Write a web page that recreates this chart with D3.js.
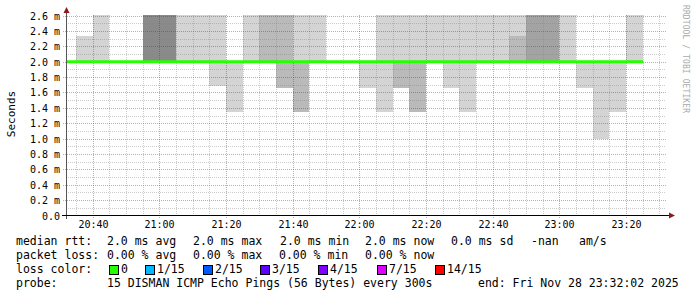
<!DOCTYPE html>
<html>
<head>
<meta charset="utf-8">
<script src="https://cdn.jsdelivr.net/npm/d3@7"></script>
<style>
body { margin: 0; background: #fff; }
svg { display: block; }
text { font-family: "DejaVu Sans Mono", monospace; }
</style>
</head>
<body>
<svg id="chart" width="697" height="297"></svg>
<script>
// one entry per 5 minute slot (start time), values in ms
const slotTimes = ["20:30", "20:35", "20:40", "20:45", "20:50", "20:55", "21:00", "21:05", "21:10",
  "21:15", "21:20", "21:25", "21:30", "21:35", "21:40", "21:45", "21:50", "21:55", "22:00", "22:05",
  "22:10", "22:15", "22:20", "22:25", "22:30", "22:35", "22:40", "22:45", "22:50", "22:55", "23:00",
  "23:05", "23:10", "23:15", "23:20"];
const medianRtt = [2.0, 2.0, 2.0, 2.0, 2.0, 2.0, 2.0, 2.0, 2.0, 2.0, 2.0, 2.0, 2.0, 2.0, 2.0, 2.0, 2.0, 2.0,
  2.0, 2.0, 2.0, 2.0, 2.0, 2.0, 2.0, 2.0, 2.0, 2.0, 2.0, 2.0, 2.0, 2.0, 2.0, 2.0, 2.0];
// smoke above the median (top of band), null = none
const maxPing = [null, 2.34, 2.7, null, null, 2.7, 2.7, 2.7, 2.7, 2.7, null, 2.7, 2.7, 2.7, 2.7, 2.7, null, null,
  null, 2.7, 2.7, 2.7, 2.7, 2.7, 2.7, 2.7, 2.7, 2.7, 2.7, 2.7, 2.7, null, null, null, 2.7];
const maxShade = [0, 0, 0, 0, 0, 3, 3, 0, 0, 0, 0, 0, 1, 1, 0, 0, 0, 0,
  0, 0, 0, 0, 0, 0, 0, 0, 0, 0, 2, 2, 0, 0, 0, 0, 0];
// denser inner band above the median
const innerPing = [null, null, null, null, null, null, null, null, null, null, null, null, null, null, null, null, null, null,
  null, null, null, null, null, null, null, null, null, 2.34, null, null, null, null, null, null, null];
const innerShade = [0, 0, 0, 0, 0, 0, 0, 0, 0, 0, 0, 0, 0, 0, 0, 0, 0, 0,
  0, 0, 0, 0, 0, 0, 0, 0, 0, 1, 0, 0, 0, 0, 0, 0, 0];
// smoke below the median (bottom of band)
const minPing = [null, null, null, null, null, null, null, null, null, 1.69, 1.35, null, null, 1.66, 1.35, null, null, null,
  1.66, 1.35, 1.66, 1.35, null, 1.66, 1.35, null, null, null, null, null, null, 1.66, 1.0, 1.35, null];
const minShade = [0, 0, 0, 0, 0, 0, 0, 0, 0, 0, 0, 0, 0, 1, 1, 0, 0, 0,
  0, 0, 1, 1, 0, 0, 0, 0, 0, 0, 0, 0, 0, 0, 0, 0, 0];

const yTicks = [0, 0.2, 0.4, 0.6, 0.8, 1.0, 1.2, 1.4, 1.6, 1.8, 2.0, 2.2, 2.4, 2.6];
const xTicks = ["20:40", "21:00", "21:20", "21:40", "22:00", "22:20", "22:40", "23:00", "23:20"];
const startTime = "20:32:02";
const endTime = "23:32:02";

const lossLabels = ["0", "1/15", "2/15", "3/15", "4/15", "7/15", "14/15"];
const lossColors = ["#26ff00", "#00b8ff", "#0059ff", "#5e00ff", "#7e00ff", "#dd00ff", "#ff0000"];

const shades = ["#d4d4d4", "#bababa", "#a3a3a3", "#8a8a8a"];

var svg = d3.select("#chart");
var parseHM = d3.timeParse("%H:%M");
var parseHMS = d3.timeParse("%H:%M:%S");

var x = d3.scaleTime()
  .domain([parseHMS(startTime), parseHMS(endTime)])
  .range([66, 666]);
var y = d3.scaleLinear().domain([0, 2.6]).range([215.5, 15.5]);

svg.append("defs").append("clipPath").attr("id", "plot")
  .append("rect").attr("x", 66).attr("y", 15).attr("width", 600).attr("height", 201);

var slots = slotTimes.map(function(t, i) {
  var s = parseHM(t);
  return { x0: Math.round(x(s)), x1: Math.round(x(d3.timeMinute.offset(s, 5))), i: i };
});

var smoke = svg.append("g").attr("clip-path", "url(#plot)");
function band(lo, hi, shade) {
  smoke.selectAll(null)
    .data(slots.filter(d => hi[d.i] != null || lo[d.i] != null))
    .enter().append("rect")
    .attr("x", d => d.x0)
    .attr("width", d => d.x1 - d.x0)
    .attr("y", d => Math.round(y(Math.max(lo[d.i] ?? medianRtt[d.i], hi[d.i] ?? medianRtt[d.i]))))
    .attr("height", d => Math.abs(Math.round(y(lo[d.i] ?? medianRtt[d.i])) - Math.round(y(hi[d.i] ?? medianRtt[d.i]))))
    .attr("fill", d => shades[shade[d.i]]);
}
var none = slotTimes.map(() => null);
band(none, maxPing, maxShade);
band(none, innerPing, innerShade);
band(minPing, none, minShade);

// grid
var grid = svg.append("g");
var minorY = d3.range(1, 26).filter(k => k % 2 == 1).map(k => k / 10);
grid.selectAll(".hmin").data(minorY).enter().append("line")
  .attr("x1", 66).attr("x2", 666)
  .attr("y1", d => Math.round(y(d)) + 0.5).attr("y2", d => Math.round(y(d)) + 0.5)
  .attr("stroke", "rgba(128,128,128,0.4)").attr("stroke-dasharray", "1,1");
var minorX = d3.timeMinute.every(5).range(x.domain()[0], x.domain()[1])
  .filter(d => d.getMinutes() % 20 != 0);
grid.selectAll(".vmin").data(minorX).enter().append("line")
  .attr("x1", d => Math.round(x(d)) + 0.5).attr("x2", d => Math.round(x(d)) + 0.5)
  .attr("y1", 15).attr("y2", 215)
  .attr("stroke", "rgba(128,128,128,0.4)").attr("stroke-dasharray", "1,1");
grid.selectAll(".hmaj").data(yTicks.slice(1)).enter().append("line")
  .attr("x1", 63).attr("x2", 666)
  .attr("y1", d => Math.round(y(d)) + 0.5).attr("y2", d => Math.round(y(d)) + 0.5)
  .attr("stroke", "rgba(210,0,0,0.4)").attr("stroke-dasharray", "1,1");
grid.selectAll(".vmaj").data(xTicks).enter().append("line")
  .attr("x1", d => Math.round(x(parseHM(d))) + 0.5).attr("x2", d => Math.round(x(parseHM(d))) + 0.5)
  .attr("y1", 15).attr("y2", 218)
  .attr("stroke", "rgba(210,0,0,0.4)").attr("stroke-dasharray", "1,1");

// median line
var pts = slots.map(d => [d.x0, y(medianRtt[d.i])]);
pts.push([slots[slots.length - 1].x1, y(medianRtt[medianRtt.length - 1])]);
svg.append("path")
  .attr("clip-path", "url(#plot)")
  .attr("d", d3.line().curve(d3.curveStepAfter)(pts))
  .attr("fill", "none")
  .attr("stroke", "#26ff00")
  .attr("stroke-width", 3);

// axes
svg.append("line").attr("x1", 66.5).attr("x2", 66.5).attr("y1", 12).attr("y2", 219)
  .attr("stroke", "#555");
svg.append("line").attr("x1", 62).attr("x2", 670).attr("y1", 215.5).attr("y2", 215.5)
  .attr("stroke", "#000");
svg.append("path").attr("d", "M63.5,13 L69.5,13 L66.5,7 Z").attr("fill", "#8b1a1a");
svg.append("path").attr("d", "M669,212.5 L669,218.5 L675,215.5 Z").attr("fill", "#8b1a1a");

svg.selectAll(".ylab").data(yTicks).enter().append("text")
  .attr("x", 60).attr("y", d => Math.round(y(d)) + 4)
  .attr("text-anchor", "end")
  .attr("font-size", 10)
  .attr("fill", "#000")
  .text(d => d == 0 ? "0.0" : d.toFixed(1) + " m");

svg.selectAll(".xlab").data(xTicks).enter().append("text")
  .attr("x", d => Math.round(x(parseHM(d))) + 0.5).attr("y", 228)
  .attr("text-anchor", "middle")
  .attr("font-size", 10)
  .attr("fill", "#000")
  .text(d => d);

svg.append("text")
  .attr("transform", "translate(15,114) rotate(-90)")
  .attr("text-anchor", "middle")
  .attr("font-size", 11)
  .text("Seconds");

svg.append("text")
  .attr("transform", "translate(683,5) rotate(90)")
  .attr("font-size", 8)
  .attr("fill", "#aaa")
  .attr("textLength", 108)
  .text("RRDTOOL / TOBI OETIKER");

// legend
var legend = svg.append("g").attr("font-size", 11.5).attr("fill", "#000");
function put(txt, px, py) {
  legend.append("text").attr("x", px).attr("y", py).attr("xml:space", "preserve").text(txt);
}
put("median rtt:", 16, 245);
put("2.0 ms avg", 107, 245);
put("2.0 ms max", 193, 245);
put("2.0 ms min", 280, 245);
put("2.0 ms now", 365, 245);
put("0.0 ms sd", 451, 245);
put("-nan", 531, 245);
put("am/s", 579, 245);
put("packet loss:", 16, 259);
put("0.00 % avg", 107, 259);
put("0.00 % max", 193, 259);
put("0.00 % min", 279, 259);
put("0.00 % now", 365, 259);
put("loss color:", 16, 273);
var boxX = [109.5, 145.5, 203.5, 260.5, 318.5, 377.5, 435.5];
lossLabels.forEach(function(l, i) {
  legend.append("rect").attr("x", boxX[i]).attr("y", 265.5).attr("width", 9).attr("height", 9)
    .attr("fill", lossColors[i]).attr("stroke", "#000");
  put(l, boxX[i] + 11.5, 273);
});
put("probe:", 16, 287);
put("15 DISMAN ICMP Echo Pings (56 Bytes) every 300s", 107, 287);
put("end: Fri Nov 28 23:32:02 2025", 478, 287);
</script>
</body>
</html>
